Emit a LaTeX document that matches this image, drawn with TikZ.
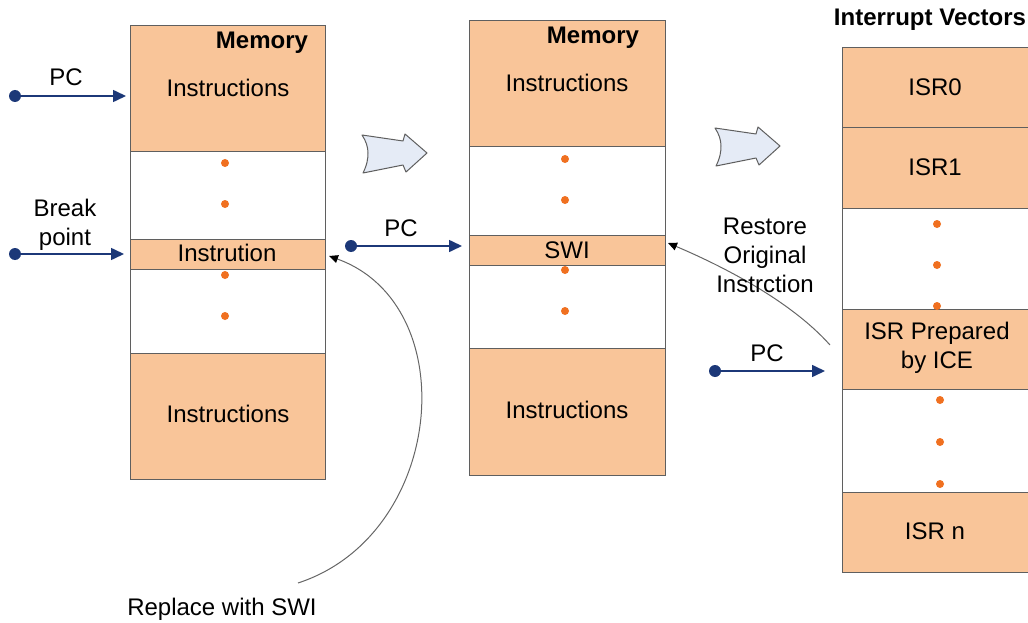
\documentclass[tikz,border=0pt]{standalone}
\usepackage{fontspec}
\setmainfont{Liberation Sans}
\usetikzlibrary{arrows.meta}

\definecolor{cellfill}{RGB}{249,197,153}
\definecolor{edgegray}{RGB}{95,95,95}
\definecolor{dotorange}{RGB}{240,112,32}
\definecolor{pcnavy}{RGB}{28,56,120}
\definecolor{stagefill}{RGB}{229,235,246}

\tikzset{
  column/.style={draw=edgegray, fill=white, line width=1pt, inner sep=0pt, outer sep=0pt, anchor=north west},
  cell/.style={draw=edgegray, fill=cellfill, line width=1pt, inner sep=0pt, outer sep=0pt, anchor=north west},
  label/.style={inner sep=0pt, align=center},
  gapdot/.style={circle, fill=dotorange, inner sep=0pt, minimum size=8pt},
  pcpin/.style={circle, fill=pcnavy, inner sep=0pt, minimum size=12pt},
  pcptr/.style={draw=pcnavy, line width=1.6pt, -{Triangle[length=13pt,width=12pt]}},
  note/.style={draw=black!60, line width=1pt, -{Triangle[length=9pt,width=8pt,fill=black,color=black]}},
  stagearrow/.pic={
    \draw[draw=edgegray, fill=stagefill, line width=1pt, line join=round]
      (0,0) -- (41,6) -- (43,-1) -- (65,18) -- (44,37) -- (41,30) -- (1,38)
      .. controls (5,30) and (6,24) .. (6,18) .. controls (6,12) and (4,6) .. cycle;
  }
}

\begin{document}
\begin{tikzpicture}[x=1pt, y=-1pt, font=\fontsize{24}{29}\selectfont]
\useasboundingbox (0,0) rectangle (1028,623);

% ---------- original program memory ----------
\node[column, minimum width=195pt, minimum height=453pt] (memA) at (130,26) {};
\node[cell, minimum width=195pt, minimum height=126pt] (memAtop) at (130,26) {};
\node[cell, minimum width=195pt, minimum height=30pt]  (memAbrk) at (130,239) {};
\node[cell, minimum width=195pt, minimum height=126pt] (memAbot) at (130,353) {};
\node[label, font=\fontsize{24}{29}\selectfont\bfseries] (memAtitle) at (262,43) {Memory};
\node[label] (memAtxt1) at (228,88) {Instructions};
\node[label] (memAtxt2) at (227,253) {Instrution};
\node[label] (memAtxt3) at (228,414) {Instructions};
\node[gapdot] (ga1) at (225,163) {};
\node[gapdot] (ga2) at (225,204) {};
\node[gapdot] (ga3) at (225,275) {};
\node[gapdot] (ga4) at (225,316) {};

% PC and breakpoint pointers
\node[pcpin] (pcA) at (15,96) {};
\node[label] (pcAtxt) at (66,77) {PC};
\draw[pcptr, shorten >=4pt] (pcA.center) -- (pcA -| memAtop.west);
\node[pcpin] (bpA) at (15,254) {};
\node[label] (bpAtxt) at (65,225) {Break\\point};
\draw[pcptr, shorten >=6pt] (bpA.center) -- (bpA -| memAbrk.west);

% ---------- patched program memory ----------
\node[column, minimum width=196pt, minimum height=454pt] (memB) at (469,21) {};
\node[cell, minimum width=196pt, minimum height=126pt] (memBtop) at (469,21) {};
\node[cell, minimum width=196pt, minimum height=30pt]  (memBswi) at (469,235) {};
\node[cell, minimum width=196pt, minimum height=127pt] (memBbot) at (469,348) {};
\node[label, font=\fontsize{24}{29}\selectfont\bfseries] (memBtitle) at (593,38) {Memory};
\node[label] (memBtxt1) at (567,83) {Instructions};
\node[label] (memBtxt2) at (567,250) {SWI};
\node[label] (memBtxt3) at (567,410) {Instructions};
\node[gapdot] (gb1) at (565,159) {};
\node[gapdot] (gb2) at (565,200) {};
\node[gapdot] (gb3) at (565,270) {};
\node[gapdot] (gb4) at (565,311) {};

\node[pcpin] (pcB) at (351,246) {};
\node[label] (pcBtxt) at (401,228) {PC};
\draw[pcptr, shorten >=7pt] (pcB.center) -- (pcB -| memBswi.west);

% ---------- interrupt vector table (runs past the right edge) ----------
\node[label, font=\fontsize{24}{29}\selectfont\bfseries] (vecTitle) at (930,20) {Interrupt Vectors};
\node[column, minimum width=200pt, minimum height=524pt] (vec) at (842,48) {};
\node[cell, minimum width=200pt, minimum height=80pt] (isr0) at (842,48) {};
\node[cell, minimum width=200pt, minimum height=80pt] (isr1) at (842,128) {};
\node[cell, minimum width=200pt, minimum height=80pt] (isrice) at (842,309) {};
\node[cell, minimum width=200pt, minimum height=80pt] (isrn) at (842,492) {};
\node[label] (isr0txt) at (935,87) {ISR0};
\node[label] (isr1txt) at (935,167) {ISR1};
\node[label] (isricetxt) at (937,348) {ISR Prepared\\by ICE};
\node[label] (isrntxt) at (935,531) {ISR n};
\node[gapdot] (gv1) at (937,224) {};
\node[gapdot] (gv2) at (937,265) {};
\node[gapdot] (gv3) at (937,306) {};
\node[gapdot] (gv4) at (940,400) {};
\node[gapdot] (gv5) at (940,442) {};
\node[gapdot] (gv6) at (940,484) {};

\node[pcpin] (pcC) at (715,371) {};
\node[label] (pcCtxt) at (767,353) {PC};
\draw[pcptr, shorten >=17pt] (pcC.center) -- (pcC -| isrice.west);

% ---------- stage arrows ----------
\pic at (362,135) {stagearrow};
\pic at (715,128) {stagearrow};

% ---------- annotations ----------
\coordinate (swiFrom) at (298,583);
\draw[note] (swiFrom) .. controls (445,535) and (465,305) .. ([xshift=4pt,yshift=-2pt]memAbrk.east);
\node[label] (swiTxt) at (222,609) {Replace with SWI};

\coordinate (restoreFrom) at (830,345);
\draw[note] (restoreFrom) .. controls (790,300) and (720,265) .. ([xshift=3pt,yshift=7pt]memBswi.east);
\node[label] (restoreTxt) at (765,255) {Restore\\Original\\Instrction};

\end{tikzpicture}
\end{document}
